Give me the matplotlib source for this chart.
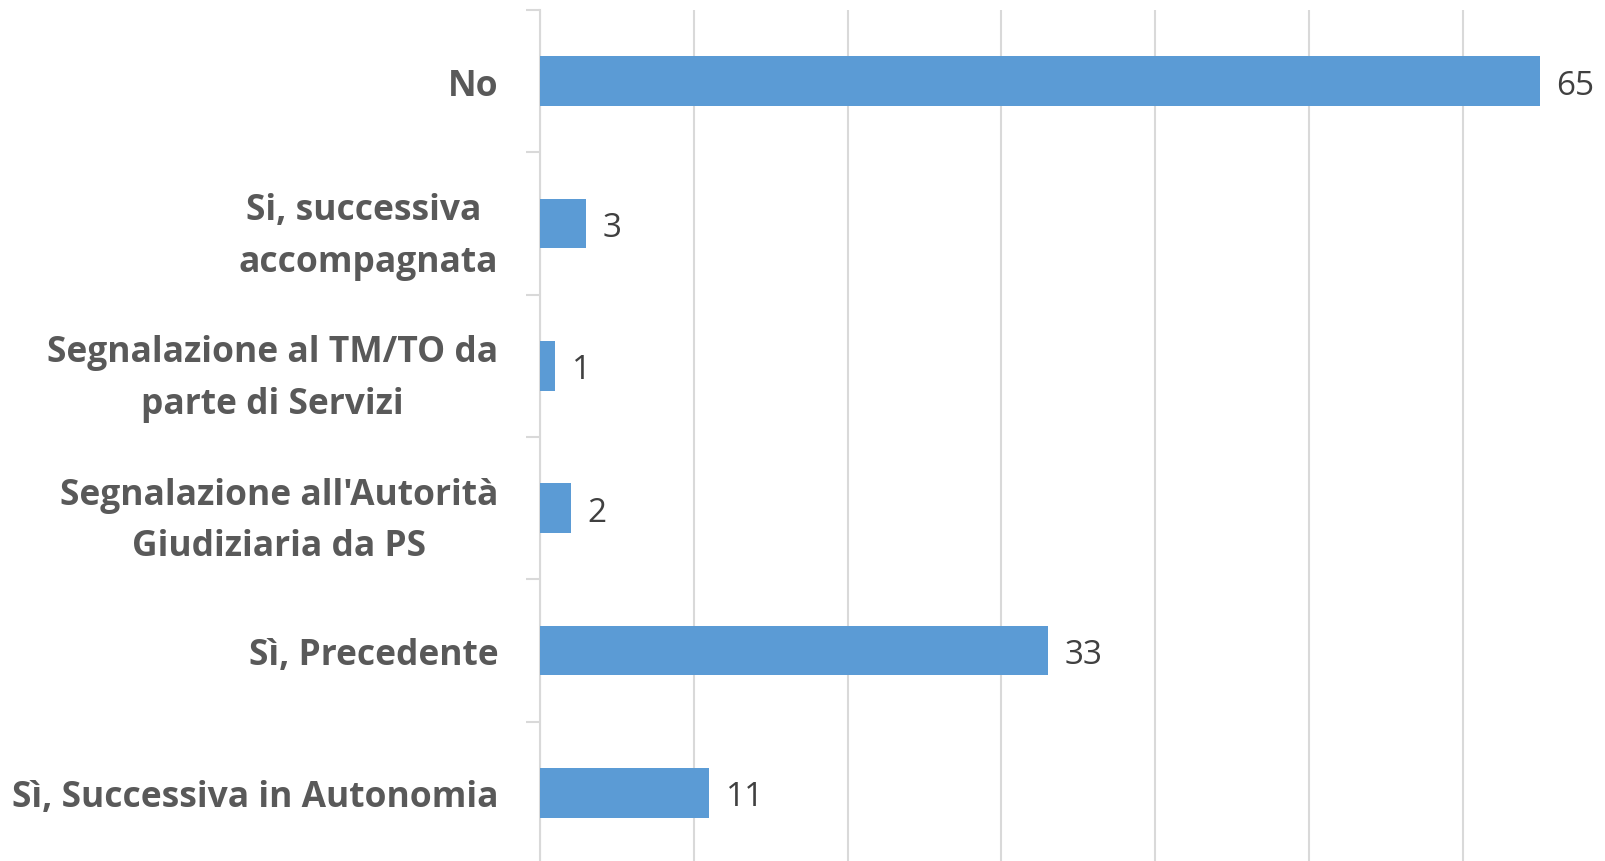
import matplotlib
matplotlib.use("Agg")
import matplotlib.pyplot as plt
from matplotlib.ticker import MultipleLocator, FixedLocator

categories = ["No", "Si, successiva \naccompagnata", "Segnalazione al TM/TO da\nparte di Servizi",
              "Segnalazione all'Autorità\nGiudiziaria da PS", "Sì, Precedente", "Sì, Successiva in Autonomia"]
values = [65, 3, 1, 2, 33, 11]

plt.rcParams['font.family'] = ['Open Sans', 'DejaVu Sans']
W, H, DPI = 1606, 862, 100
fig = plt.figure(figsize=(W / DPI, H / DPI), dpi=DPI)
ax = fig.add_axes([540 / W, -3 / H, 1 - 540 / W, (865 - 11) / H])

ypos = list(range(len(categories)))
ax.barh(ypos, values, height=0.35, color='#5b9bd5', zorder=3)
for y, v in zip(ypos, values):
    ax.annotate(str(v), (v, y), xytext=(12, 0), textcoords='offset points',
                va='center_baseline', ha='left', fontsize=24, color='#404040')

ax.set_xlim(0, 69.3)
ax.set_ylim(len(categories) - 0.5, -0.5)
ax.xaxis.set_major_locator(MultipleLocator(10))
ax.grid(axis='x', color='#d9d9d9', linewidth=1.5, zorder=0)
ax.tick_params(axis='x', bottom=False, labelbottom=False)

ax.set_yticks(ypos)
ax.set_yticklabels(categories, fontsize=25.5, fontweight='bold', color='#595959',
                   multialignment='center', linespacing=1.58)
ax.tick_params(axis='y', which='major', length=0, pad=30)
ax.yaxis.set_minor_locator(FixedLocator([i - 0.5 for i in range(len(categories) + 1)]))
ax.tick_params(axis='y', which='minor', length=10, width=1.5, color='#d9d9d9', direction='out')

for s in ['top', 'right', 'bottom']:
    ax.spines[s].set_visible(False)
ax.spines['left'].set_color('#d9d9d9')
ax.spines['left'].set_linewidth(1.5)

fig.savefig('out.png', dpi=DPI)
